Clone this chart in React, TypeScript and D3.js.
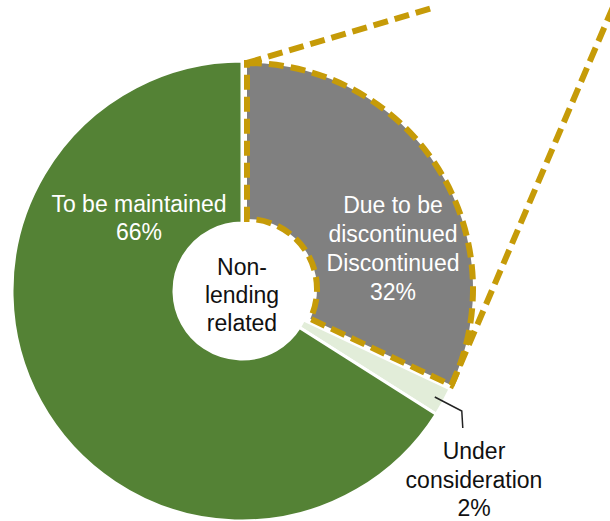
import React from "react";
import * as d3 from "d3";

const categories = ["Due to be discontinued / Discontinued", "Under consideration", "To be maintained"];
const values = [32, 2, 66];
const sliceLabels = [
  ["Due to be", "discontinued", "Discontinued", "32%"],
  ["Under", "consideration", "2%"],
  ["To be maintained", "66%"],
];
const centerLabel = ["Non-", "lending", "related"];

const W = 610, H = 521;
const cx = 242, cy = 291;
const R = 230, r0 = 68;
const colors = ["#808080", "#E2EDD9", "#548235"];
const gold = "#C69B08";
const font = "'Liberation Sans', Arial, sans-serif";

export default function App() {
  const pie = d3.pie<number>().sort(null).startAngle(0).endAngle(2 * Math.PI)(values);
  const arc = d3.arc<d3.PieArcDatum<number>>().innerRadius(r0).outerRadius(R);
  const greyArc = d3.arc<d3.PieArcDatum<number>>().innerRadius(r0 + 2).outerRadius(R - 4);
  const grey = pie[0];
  const off = [5, -2];
  const pt = (a: number, rad: number) => [cx + off[0] + rad * Math.sin(a), cy + off[1] - rad * Math.cos(a)];
  const pA = pt(grey.startAngle, R - 4);
  const pB = pt(grey.endAngle, R - 4);
  const small = pie[1];
  const midS = (small.startAngle + small.endAngle) / 2;
  const s0 = [cx + 220 * Math.sin(midS), cy - 220 * Math.cos(midS)];
  const lh = 28.5;
  return (
    <svg width={W} height={H} style={{ position: "absolute", left: 0, top: 0, background: "#fff" }} fontFamily={font}>
      <g transform={`translate(${cx},${cy})`}>
        {pie.map((d, i) =>
          i === 0 ? null : (
            <path key={categories[i]} d={arc(d) || ""} fill={colors[i]} stroke="#fff" strokeWidth={3} />
          )
        )}
        <g transform={`translate(${off[0]},${off[1]})`}>
          <path d={greyArc(grey) || ""} fill={colors[0]} stroke={gold} strokeWidth={6} strokeDasharray="15 7" />
        </g>
        <circle r={r0} fill="#fff" />
      </g>
      <line x1={pA[0]} y1={pA[1]} x2={432} y2={8} stroke={gold} strokeWidth={6} strokeDasharray="15 7" />
      <line x1={pB[0]} y1={pB[1]} x2={616} y2={0} stroke={gold} strokeWidth={6} strokeDasharray="15 7" />
      <polyline
        points={`${s0[0]},${s0[1]} ${s0[0] + 27},${s0[1] + 14} ${s0[0] + 28},${s0[1] + 31}`}
        fill="none" stroke="#222" strokeWidth={1.5}
      />
      <g fontSize={23} textAnchor="middle">
        {sliceLabels[2].map((t, i) => (
          <text key={t} x={139} y={212 + i * 28} fill="#fff">{t}</text>
        ))}
        {sliceLabels[0].map((t, i) => (
          <text key={t} x={393} y={213 + i * 29} fill="#fff">{t}</text>
        ))}
        {centerLabel.map((t, i) => (
          <text key={t} x={242} y={275 + i * 28} fill="#111">{t}</text>
        ))}
        {sliceLabels[1].map((t, i) => (
          <text key={t} x={474} y={459 + i * lh} fill="#111">{t}</text>
        ))}
      </g>
    </svg>
  );
}
